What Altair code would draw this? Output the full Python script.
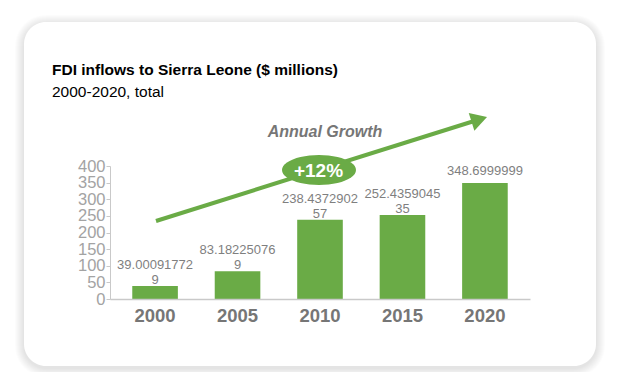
import math
import altair as alt
import pandas as pd

# ---- data ----
years = ["2000", "2005", "2010", "2015", "2020"]
values = [39.000917729, 83.182250769, 238.437290257, 252.435904535, 348.6999999]
labels = ["39.00091772\n9", "83.18225076\n9", "238.4372902\n57", "252.4359045\n35", "348.6999999"]
y_ticks = [0, 50, 100, 150, 200, 250, 300, 350, 400]
title_text = "FDI inflows to Sierra Leone ($ millions)"
subtitle_text = "2000-2020, total"
growth_label = "Annual Growth"
growth_value = "+12%"

GREEN = "#6aab46"
FONT = "Liberation Sans"

df = pd.DataFrame({"year": years, "value": values, "label": labels})
one = pd.DataFrame({"k": [0]})

W, H = 420, 133
CX0, CX1, CY0, CY1 = -86, 486, -144, 200  # card, in plot coordinates

layers = []
# soft shadow
for i in range(1, 10):
    layers.append(
        alt.Chart(one).mark_rect(cornerRadius=22 + i, color="#000000", opacity=0.011)
        .encode(x=alt.value(CX0 - i), x2=alt.value(CX1 + i),
                y=alt.value(CY0 - i + 2), y2=alt.value(CY1 + i + 2))
    )
# card
layers.append(
    alt.Chart(one).mark_rect(cornerRadius=22, color="white")
    .encode(x=alt.value(CX0), x2=alt.value(CX1), y=alt.value(CY0), y2=alt.value(CY1))
)

x_enc = alt.X("year:N", sort=years, title=None,
              scale=alt.Scale(paddingInner=0.447, paddingOuter=0.27),
              axis=alt.Axis(labelAngle=0, ticks=False, labelFontSize=18.5, labelFontWeight="bold",
                            labelColor="#767676", labelFont=FONT, labelPadding=7,
                            domainColor="#c9c9c9", domainWidth=1.5, zindex=1))
y_enc = alt.Y("value:Q", title=None, scale=alt.Scale(domain=[0, 400], nice=False),
              axis=alt.Axis(values=y_ticks, grid=False, tickSize=4, tickColor="#c9c9c9",
                            domainColor="#c9c9c9", labelFontSize=16.5, labelColor="#a3a3a3",
                            labelFont=FONT, labelPadding=1, zindex=1))

bars = alt.Chart(df).mark_bar(color=GREEN).encode(x=x_enc, y=y_enc)
layers.append(bars)

lbl_multi = (alt.Chart(df).transform_filter("indexof(datum.label, '\\n') >= 0")
             .mark_text(baseline="bottom", dy=-14, fontSize=13, color="#7f7f7f", font=FONT,
                        lineBreak="\n", lineHeight=15)
             .encode(x=x_enc, y=y_enc, text="label:N"))
lbl_single = (alt.Chart(df).transform_filter("indexof(datum.label, '\\n') < 0")
              .mark_text(baseline="bottom", dy=-5, fontSize=13, color="#7f7f7f", font=FONT)
              .encode(x=x_enc, y=y_enc, text="label:N"))
layers += [lbl_multi, lbl_single]

# growth arrow
layers.append(
    alt.Chart(one).mark_rule(color=GREEN, strokeWidth=4)
    .encode(x=alt.value(46), y=alt.value(55), x2=alt.value(369), y2=alt.value(-46.5))
)
layers.append(
    alt.Chart(one).mark_point(shape="triangle-up", filled=True, size=350, angle=72.5,
                              color=GREEN, opacity=1)
    .encode(x=alt.value(369.3), y=alt.value(-46.6))
)
pts = [(math.cos(2 * math.pi * k / 48), 0.405 * math.sin(2 * math.pi * k / 48)) for k in range(48)]
ellipse = "M" + " L".join(f"{a:.4f},{b:.4f}" for a, b in pts) + " Z"
layers.append(
    alt.Chart(one).mark_point(shape=ellipse, filled=True, size=5476, color=GREEN, opacity=1)
    .encode(x=alt.value(209), y=alt.value(4))
)
layers.append(
    alt.Chart(one).mark_text(fontSize=19, fontWeight="bold", color="white", font=FONT,
                             baseline="middle", align="center")
    .encode(x=alt.value(208.5), y=alt.value(4.5), text=alt.value(growth_value))
)
layers.append(
    alt.Chart(one).mark_text(fontSize=16, fontWeight="bold", fontStyle="italic", color="#767676",
                             font=FONT, baseline="middle", align="center")
    .encode(x=alt.value(215), y=alt.value(-34), text=alt.value(growth_label))
)
# titles
layers.append(
    alt.Chart(one).mark_text(fontSize=15.5, fontWeight="bold", color="#000000", font=FONT,
                             align="left", baseline="alphabetic")
    .encode(x=alt.value(-58), y=alt.value(-91), text=alt.value(title_text))
)
layers.append(
    alt.Chart(one).mark_text(fontSize=15.5, color="#000000", font=FONT,
                             align="left", baseline="alphabetic")
    .encode(x=alt.value(-58), y=alt.value(-69), text=alt.value(subtitle_text))
)

chart = (
    alt.layer(*layers)
    .properties(width=W, height=H,
                autosize=alt.AutoSizeParams(type="none"),
                padding={"left": 102, "top": 158, "right": 92, "bottom": 73},
                background="white")
    .configure_view(stroke=None)
)

chart.save("out.html", embed_options={"renderer": "svg", "actions": False})
